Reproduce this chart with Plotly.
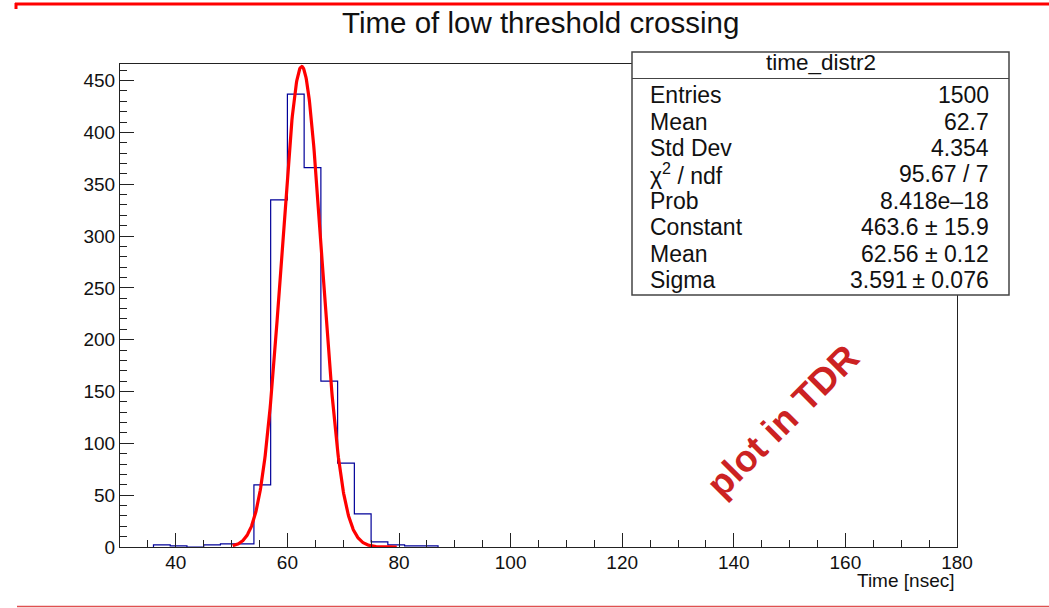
import numpy as np
import plotly.graph_objects as go

# ---------------- data ----------------
bin_edges = [36, 39, 42, 45, 48, 51, 54, 57, 60, 63, 66, 69, 72, 75, 78, 81, 84, 87]
bin_counts = [2, 1, 0, 2, 3, 3, 60, 335, 437, 366, 160, 81, 32, 5, 2, 1, 1]

fit_constant = 463.6
fit_mean = 62.56
fit_sigma = 3.591
fit_range = [50.2, 79.6]

x_ticks = [40, 60, 80, 100, 120, 140, 160, 180]
y_ticks = [0, 50, 100, 150, 200, 250, 300, 350, 400, 450]

stat_labels = ["Entries", "Mean", "Std Dev", "χ<sup>2</sup> / ndf", "Prob",
               "Constant", "Mean", "Sigma"]
stat_values = ["1500", "62.7", "4.354", "95.67 / 7", "8.418e\u201318",
               "463.6 \u00b1 15.9", "62.56 \u00b1 0.12", "3.591\u2009\u00b1 0.076"]

# ---------------- geometry (pixels) ----------------
W, H = 1049, 608
FL, FR, FT, FB = 120, 957, 64, 547  # frame edges


def px(x):
    return (x - FL) / (FR - FL)


def py(y):
    return (FB - y) / (FB - FT)


FONT = "Liberation Sans, Arial, Helvetica, sans-serif"

# histogram outline (step)
hx = [bin_edges[0]] + bin_edges[:-1] + [bin_edges[-1]]
hy = [0] + bin_counts + [0]

# fit curve
fx = np.linspace(fit_range[0], fit_range[1], 400)
fy = fit_constant * np.exp(-0.5 * ((fx - fit_mean) / fit_sigma) ** 2)

fig = go.Figure()
fig.add_trace(go.Scatter(x=hx, y=hy, mode="lines", line=dict(color="#000099", width=1.2, shape="hv"),
                         hoverinfo="skip", showlegend=False))
fig.add_trace(go.Scatter(x=fx, y=fy, mode="lines", line=dict(color="#ff0000", width=3.2),
                         hoverinfo="skip", showlegend=False))

axis_common = dict(showgrid=False, zeroline=False, showline=True, linecolor="#222222", linewidth=1,
                   mirror=True, ticks="inside", tickcolor="#222222", tickwidth=1,
                   tickfont=dict(family=FONT, size=19, color="#111111"))

fig.update_xaxes(range=[30, 180], tickvals=x_ticks, ticklen=14, ticklabelstandoff=-2,
                 minor=dict(dtick=5, tick0=0, ticklen=7, ticks="inside", tickcolor="#222222"),
                 **axis_common)
fig.update_yaxes(range=[0, 466], tickvals=y_ticks, ticklen=14,
                 minor=dict(dtick=10, tick0=0, ticklen=7, ticks="inside", tickcolor="#222222"),
                 **axis_common)

shapes = []
# top red line with small left hook
shapes.append(dict(type="line", xref="paper", yref="paper", x0=px(15), x1=px(1049), y0=py(4), y1=py(4),
                   line=dict(color="#ff0000", width=3)))
shapes.append(dict(type="line", xref="paper", yref="paper", x0=px(16), x1=px(16), y0=py(3), y1=py(9),
                   line=dict(color="#ff0000", width=3)))
# bottom line
shapes.append(dict(type="line", xref="paper", yref="paper", x0=px(17), x1=px(1049), y0=py(606.5), y1=py(606.5),
                   line=dict(color="#e05050", width=1.5)))
# stats box
shapes.append(dict(type="rect", xref="paper", yref="paper", x0=px(632), x1=px(1009), y0=py(295), y1=py(52),
                   line=dict(color="#444444", width=1.5), fillcolor="white", layer="above"))
shapes.append(dict(type="line", xref="paper", yref="paper", x0=px(632), x1=px(1009), y0=py(78.5), y1=py(78.5),
                   line=dict(color="#444444", width=1.2), layer="above"))

annotations = []
annotations.append(dict(text="Time of low threshold crossing", xref="paper", yref="paper",
                        x=px(540), y=py(22), xanchor="center", yanchor="middle", showarrow=False,
                        font=dict(family=FONT, size=29.5, color="#111111")))
annotations.append(dict(text="Time [nsec]", xref="paper", yref="paper",
                        x=px(957), y=py(580), xanchor="right", yanchor="middle", showarrow=False,
                        font=dict(family=FONT, size=19, color="#111111")))
annotations.append(dict(text="time_distr2", xref="paper", yref="paper",
                        x=px(820.5), y=py(63), xanchor="center", yanchor="middle", showarrow=False,
                        font=dict(family=FONT, size=22.5, color="#111111")))
row_y = [95, 121.5, 148, 174, 200.5, 227, 253.5, 280]
for lab, val, ry in zip(stat_labels, stat_values, row_y):
    annotations.append(dict(text=lab, xref="paper", yref="paper", x=px(648), y=py(ry),
                            xanchor="left", yanchor="middle", showarrow=False,
                            font=dict(family=FONT, size=23, color="#111111")))
    annotations.append(dict(text=val, xref="paper", yref="paper", x=px(991), y=py(ry),
                            xanchor="right", yanchor="middle", showarrow=False,
                            font=dict(family=FONT, size=23, color="#111111")))
annotations.append(dict(text="<b>plot in TDR</b>", xref="paper", yref="paper",
                        x=px(782), y=py(421), xanchor="center", yanchor="middle", showarrow=False,
                        textangle=-45, font=dict(family=FONT, size=37, color="#cc2222")))

fig.update_layout(width=W, height=H, margin=dict(l=FL, r=W - FR, t=FT, b=H - FB),
                  paper_bgcolor="white", plot_bgcolor="white", shapes=shapes, annotations=annotations,
                  showlegend=False)

fig.write_html("out.html")
